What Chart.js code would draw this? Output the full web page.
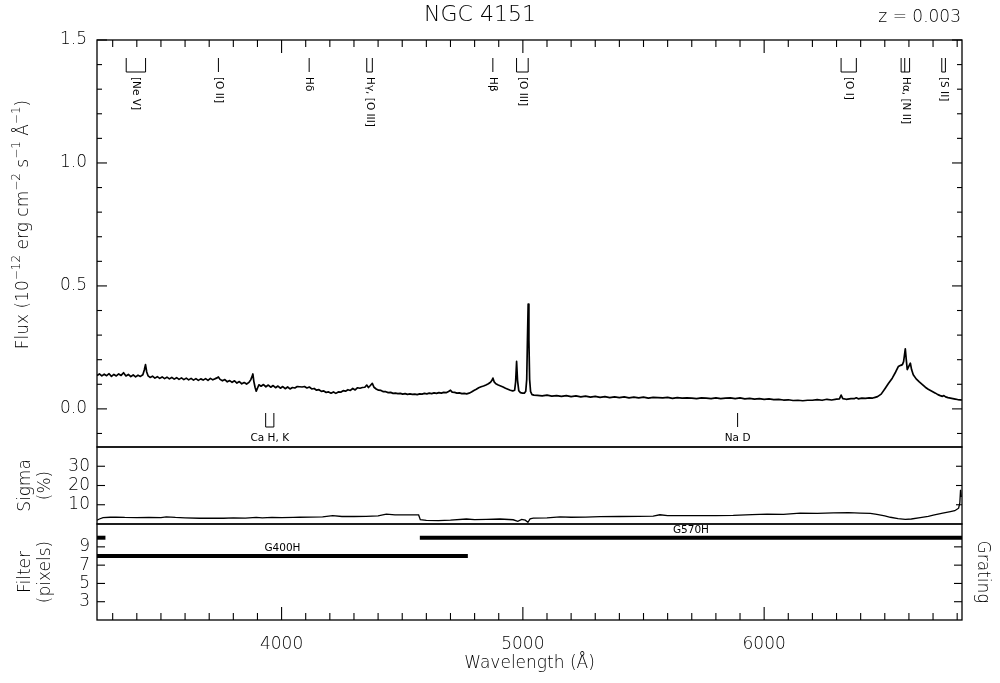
<!DOCTYPE html>
<html>
<head>
<meta charset="utf-8">
<title>NGC 4151</title>
<script src="https://cdn.jsdelivr.net/npm/chart.js@4.4.1/dist/chart.umd.min.js"></script>
<style>
  html, body { margin: 0; padding: 0; background: #fff; }
  #wrap { position: relative; width: 1000px; height: 683px; background: #fff; }
  #wrap canvas { position: absolute; left: 0; top: 0; }
</style>
</head>
<body>
<div id="wrap">
  <canvas id="cFlux" width="1000" height="683"></canvas>
  <canvas id="cSigma" width="1000" height="683"></canvas>
  <canvas id="cFilter" width="1000" height="683"></canvas>
</div>
<script>
// ---- spectrum (observed wavelength in Angstrom, flux in 1e-12 erg/cm2/s/A) ----
const wavelength = [
  3235,3245,3255,3265,3275,3285,3295,3305,3315,3325,3335,3345,3355,3365,3375,3385,3395,3405,3415,3425,
  3431,3436,3441,3447,3455,3465,3475,3485,3495,3505,3515,3525,3535,3545,3555,3565,3575,3585,3595,3605,
  3615,3625,3635,3645,3655,3665,3675,3685,3695,3705,3715,3725,3733,3738,3745,3755,3765,3775,3785,3795,
  3805,3815,3825,3835,3845,3855,3865,3872,3877,3881,3885,3890,3895,3900,3906,3915,3925,3935,3945,3955,
  3965,3975,3985,3995,4005,4015,4025,4035,4045,4055,4065,4075,4085,4095,4105,4115,4125,4135,4145,4155,
  4165,4175,4185,4195,4205,4215,4225,4235,4245,4255,4265,4275,4285,4295,4305,4315,4325,4335,4345,4353,
  4360,4368,4376,4383,4392,4402,4412,4422,4432,4442,4452,4462,4472,4482,4492,4502,4512,4522,4532,4542,
  4552,4562,4572,4582,4592,4602,4612,4622,4632,4642,4652,4662,4672,4682,4692,4700,4707,4717,4727,4737,
  4747,4757,4767,4777,4787,4797,4807,4817,4827,4837,4847,4857,4866,4872,4876,4881,4888,4898,4908,4918,
  4928,4938,4948,4958,4966,4970,4974,4978,4983,4990,4998,5006,5012,5016,5019,5022,5025,5028,5032,5038,
  5046,5060,5080,5100,5120,5140,5160,5180,5200,5220,5240,5260,5280,5300,5320,5340,5360,5380,5400,5420,
  5440,5460,5480,5500,5520,5540,5560,5580,5600,5620,5640,5660,5680,5700,5720,5740,5760,5780,5800,5820,
  5840,5860,5880,5900,5920,5940,5960,5980,6000,6020,6040,6060,6080,6100,6120,6140,6160,6180,6200,6220,
  6240,6260,6280,6300,6312,6319,6326,6340,6360,6375,6382,6390,6405,6420,6435,6450,6460,6470,6485,6502,
  6515,6531,6545,6556,6566,6573,6578,6581,6585,6589,6593,6598,6606,6611,6618,6630,6643,6656,6668,6680,
  6697,6710,6720,6730,6739,6745,6752,6762,6772,6782,6792,6802,6812,6820
];
const flux = [
  0.136,0.142,0.134,0.141,0.135,0.143,0.132,0.140,0.134,0.142,0.136,0.147,0.134,0.140,0.131,0.138,0.130,0.137,0.132,0.139,
  0.158,0.180,0.150,0.134,0.128,0.133,0.125,0.131,0.124,0.130,0.123,0.129,0.122,0.128,0.121,0.127,0.120,0.126,0.119,0.125,
  0.118,0.124,0.117,0.123,0.116,0.122,0.117,0.123,0.116,0.124,0.118,0.123,0.126,0.130,0.120,0.114,0.119,0.110,0.115,0.108,
  0.114,0.105,0.111,0.102,0.107,0.101,0.108,0.118,0.130,0.142,0.112,0.088,0.072,0.084,0.098,0.092,0.099,0.090,0.097,0.088,
  0.095,0.086,0.093,0.084,0.091,0.082,0.089,0.081,0.087,0.085,0.091,0.090,0.089,0.091,0.085,0.089,0.081,0.083,0.076,0.078,
  0.071,0.073,0.067,0.069,0.064,0.069,0.063,0.069,0.068,0.074,0.072,0.078,0.075,0.083,0.077,0.086,0.084,0.087,0.088,0.097,
  0.087,0.095,0.104,0.088,0.081,0.076,0.075,0.070,0.070,0.066,0.067,0.063,0.064,0.062,0.063,0.060,0.062,0.059,0.061,0.059,
  0.060,0.058,0.061,0.060,0.063,0.061,0.064,0.062,0.065,0.063,0.066,0.064,0.067,0.066,0.071,0.076,0.068,0.067,0.064,0.065,
  0.062,0.063,0.061,0.064,0.069,0.075,0.080,0.086,0.090,0.093,0.097,0.102,0.108,0.116,0.125,0.110,0.102,0.097,0.093,0.089,
  0.084,0.080,0.076,0.073,0.076,0.110,0.193,0.115,0.074,0.066,0.064,0.064,0.072,0.120,0.280,0.426,0.280,0.120,0.070,0.058,
  0.056,0.055,0.053,0.056,0.052,0.054,0.051,0.054,0.050,0.053,0.049,0.052,0.048,0.051,0.047,0.050,0.046,0.049,0.046,0.049,
  0.045,0.048,0.045,0.048,0.044,0.047,0.046,0.045,0.047,0.043,0.046,0.044,0.045,0.044,0.042,0.045,0.044,0.042,0.045,0.042,
  0.044,0.045,0.042,0.045,0.041,0.043,0.040,0.042,0.039,0.041,0.038,0.039,0.036,0.037,0.034,0.035,0.033,0.035,0.035,0.038,
  0.035,0.039,0.036,0.040,0.041,0.056,0.042,0.039,0.042,0.042,0.045,0.041,0.044,0.043,0.045,0.044,0.047,0.050,0.060,0.084,
  0.103,0.125,0.150,0.172,0.177,0.180,0.192,0.215,0.244,0.200,0.160,0.170,0.186,0.160,0.139,0.122,0.110,0.099,0.088,0.080,
  0.071,0.064,0.058,0.054,0.051,0.054,0.049,0.046,0.044,0.042,0.040,0.038,0.037,0.036
];

// ---- relative error of the spectrum (%) ----
const sigmaWave = [
  3235,3245,3260,3290,3314,3350,3400,3450,3500,3522,3560,3600,3660,3700,3760,3800,3850,3895,3920,3960,
  4000,4050,4075,4120,4170,4212,4250,4300,4350,4400,4434,4470,4520,4568,4575,4600,4650,4700,4766,4800,
  4850,4905,4960,4979,4995,5010,5021,5030,5043,5100,5154,5200,5260,5320,5400,5480,5540,5568,5600,5700,
  5800,5872,5950,6012,6080,6149,6220,6287,6350,6398,6440,6467,6500,6523,6555,6585,6610,6647,6680,6701,
  6740,6772,6790,6801,6806,6811,6814,6817
];
const sigmaPct = [
  2.0,2.6,3.3,3.5,3.6,3.4,3.3,3.4,3.3,3.7,3.4,3.2,3.0,3.1,3.0,3.2,3.1,3.4,3.2,3.4,
  3.3,3.4,3.5,3.6,3.7,4.3,3.9,3.9,4.0,4.2,5.1,4.7,4.7,4.7,2.2,1.9,1.8,2.0,2.6,2.3,
  2.4,2.6,2.2,1.4,2.4,2.0,0.9,2.7,3.0,3.2,3.7,3.5,3.6,3.8,3.9,4.0,4.1,4.8,4.3,4.3,
  4.4,4.5,4.9,5.1,5.0,5.6,5.5,5.8,5.9,5.7,5.5,5.0,4.2,3.5,2.8,2.4,2.6,3.3,4.0,4.6,
  5.6,6.4,6.9,7.8,8.2,11.0,17.8,14.0
];

// ---- grating coverage and filter width ----
const gratingName   = ['G400H', 'G570H', 'G570H'];
const gratingFrom   = [3235, 3235, 4573];
const gratingTo     = [4772, 3270, 6820];
const gratingFilter = [8, 10, 10];

// ---- line identifications ----
const redshift = 0.003;
const emissionLabel = ['[Ne V]', '[O II]', 'H\u03b4', 'H\u03b3, [O III]', 'H\u03b2', '[O III]', '[O I]', 'H\u03b1, [N II]', '[S II]'];
const emissionRest  = [[3346, 3426], [3727], [4102], [4340, 4363], [4861], [4959, 5007], [6300, 6363], [6548, 6563, 6583], [6716, 6731]];
const absorptionLabel = ['Ca H, K', 'Na D'];
const absorptionWave  = [[3934, 3968], [5890]];

// ---- axes ----
const waveRange   = [3235, 6820];
const waveTicks   = [4000, 5000, 6000];
const fluxRange   = [-0.155, 1.5];
const fluxTicks   = [0.0, 0.5, 1.0, 1.5];
const sigmaRange  = [0, 40];
const sigmaTicks  = [10, 20, 30];
const filterRange = [1, 11.5];
const filterTicks = [3, 5, 7, 9];

// flux axis title, as [text, isSuperscript] pieces
const fluxTitle = [['Flux (10', false], ['\u221212', true], [' erg cm', false], ['\u22122', true],
                   [' s', false], ['\u22121', true], [' \u00C5', false], ['\u22121', true], [')', false]];

// ---------------------------------------------------------------
const FAMILY = "'DejaVu Sans', 'Liberation Sans', sans-serif";
const INK = '#000';
const axisFont = { family: FAMILY, size: 17, weight: '200' };
const PLOT_LEFT = 97, PLOT_RIGHT_GAP = 38;

Chart.defaults.color = INK;
Chart.defaults.font.family = FAMILY;

function tickList(values) { return s => { s.ticks = values.map(v => ({ value: v })); }; }

function baseX(show) {
  return {
    type: 'linear', min: waveRange[0], max: waveRange[1], display: show,
    grid: { display: false, drawTicks: false }, border: { display: false }
  };
}

function leftY(range, ticks, fmt, title, titlePad, labelPad) {
  return {
    type: 'linear', position: 'left', min: range[0], max: range[1],
    grid: { display: false, drawTicks: false }, border: { display: false },
    afterBuildTicks: tickList(ticks),
    afterFit: s => { s.width = PLOT_LEFT; },
    ticks: { padding: labelPad, font: axisFont, color: INK, callback: fmt },
    title: { display: !!title, text: title || '', font: axisFont, color: INK, padding: { top: titlePad, bottom: 0 } }
  };
}

function line(ctx, x1, y1, x2, y2) {
  ctx.beginPath(); ctx.moveTo(x1, y1); ctx.lineTo(x2, y2); ctx.stroke();
}

// frame around the panel plus inward tick marks on both vertical edges and one horizontal edge
function framePlugin(cfg) {
  return {
    id: 'panelFrame',
    afterDatasetsDraw(chart) {
      const { ctx, chartArea: a, scales } = chart;
      ctx.save();
      ctx.strokeStyle = INK;
      ctx.lineWidth = 1.3;
      ctx.strokeRect(a.left, a.top, a.right - a.left, a.bottom - a.top);
      ctx.lineWidth = 1.1;
      if (cfg.xEdge) {
        const xs = scales.x;
        const y0 = cfg.xEdge === 'top' ? a.top : a.bottom;
        const dir = cfg.xEdge === 'top' ? 1 : -1;
        for (let w = Math.ceil(xs.min / 100) * 100; w <= xs.max; w += 100) {
          const px = xs.getPixelForValue(w);
          const len = w % 1000 === 0 ? 13 : 7;
          line(ctx, px, y0, px, y0 + dir * len);
        }
      }
      const ys = scales.y;
      cfg.yMarks.forEach(m => {
        const py = ys.getPixelForValue(m.v);
        line(ctx, a.left, py, a.left + m.left, py);
        line(ctx, a.right, py, a.right - m.right, py);
      });
      ctx.restore();
    }
  };
}

// flux axis title with raised exponents, centred on the flux axis span
const fluxTitlePlugin = {
  id: 'fluxTitle',
  afterDraw(chart) {
    const ctx = chart.ctx;
    const base = '200 17px ' + FAMILY, sup = '200 12px ' + FAMILY;
    ctx.save();
    let total = 0;
    fluxTitle.forEach(([t, s]) => { ctx.font = s ? sup : base; total += ctx.measureText(t).width; });
    const a = chart.chartArea;
    const cy = (a.top + a.bottom) / 2 - 19;
    ctx.translate(24, cy + total / 2);
    ctx.rotate(-Math.PI / 2);
    ctx.fillStyle = INK;
    ctx.textAlign = 'left';
    ctx.textBaseline = 'middle';
    let x = 0;
    fluxTitle.forEach(([t, s]) => {
      ctx.font = s ? sup : base;
      ctx.fillText(t, x, s ? -7 : 0);
      x += ctx.measureText(t).width;
    });
    ctx.restore();
  }
};

// line identifications above and below the spectrum
const lineIdPlugin = {
  id: 'lineIds',
  afterDatasetsDraw(chart) {
    const { ctx, chartArea: a, scales } = chart;
    const xs = scales.x;
    ctx.save();
    ctx.strokeStyle = INK;
    ctx.fillStyle = INK;
    ctx.lineWidth = 1;
    ctx.font = '10.5px ' + FAMILY;
    emissionRest.forEach((group, i) => {
      const px = group.map(w => xs.getPixelForValue(w * (1 + redshift)));
      const y1 = a.top + 18, y2 = a.top + 32;
      px.forEach(p => line(ctx, p, y1, p, y2));
      if (px.length > 1) line(ctx, px[0], y2, px[px.length - 1], y2);
      const cx = (px[0] + px[px.length - 1]) / 2;
      ctx.save();
      ctx.translate(cx, a.top + 37);
      ctx.rotate(Math.PI / 2);
      ctx.textAlign = 'left';
      ctx.textBaseline = 'middle';
      ctx.fillText(emissionLabel[i], 0, 0);
      ctx.restore();
    });
    absorptionWave.forEach((group, i) => {
      const px = group.map(w => xs.getPixelForValue(w));
      const y1 = a.bottom - 34, y2 = a.bottom - 20;
      px.forEach(p => line(ctx, p, y1, p, y2));
      if (px.length > 1) line(ctx, px[0], y2, px[px.length - 1], y2);
      const cx = (px[0] + px[px.length - 1]) / 2;
      ctx.textAlign = 'center';
      ctx.textBaseline = 'middle';
      ctx.fillText(absorptionLabel[i], cx, a.bottom - 9);
    });
    ctx.restore();
  }
};

const headerPlugin = {
  id: 'header',
  afterDraw(chart) {
    const ctx = chart.ctx;
    ctx.save();
    ctx.fillStyle = INK;
    ctx.textBaseline = 'middle';
    ctx.font = '200 22px ' + FAMILY;
    ctx.textAlign = 'center';
    ctx.fillText('NGC 4151', 480, 15);
    ctx.font = '200 17px ' + FAMILY;
    ctx.textAlign = 'right';
    ctx.fillText('z = 0.003', 961, 18);
    ctx.restore();
  }
};

// grating names written just above their bars
const gratingLabelPlugin = {
  id: 'gratingLabels',
  afterDatasetsDraw(chart) {
    const { ctx, scales } = chart;
    ctx.save();
    ctx.fillStyle = INK;
    ctx.font = '10.5px ' + FAMILY;
    ctx.textAlign = 'center';
    ctx.textBaseline = 'bottom';
    const done = {};
    gratingName.forEach((name, i) => {
      if (done[name]) return;
      done[name] = true;
      let best = i;
      gratingName.forEach((n, j) => {
        if (n === name && (gratingTo[j] - gratingFrom[j]) > (gratingTo[best] - gratingFrom[best])) best = j;
      });
      const cx = scales.x.getPixelForValue((gratingFrom[best] + gratingTo[best]) / 2);
      const py = scales.y.getPixelForValue(gratingFilter[best]);
      ctx.fillText(name, cx, py - 2);
    });
    ctx.restore();
  }
};

const common = {
  responsive: false, animation: false, events: [],
  plugins: { legend: { display: false }, tooltip: { enabled: false }, title: { display: false } },
  elements: { point: { radius: 0 }, line: { tension: 0 } }
};

// ---- panel 1: flux ----
const fluxMarks = [];
for (let i = -1; i <= 15; i++) fluxMarks.push({ v: i / 10, left: i % 5 === 0 ? 10 : 5, right: i % 5 === 0 ? 10 : 5 });

new Chart(document.getElementById('cFlux'), {
  type: 'line',
  data: {
    datasets: [{
      data: wavelength.map((w, i) => ({ x: w, y: flux[i] })),
      borderColor: INK, borderWidth: 1.7, borderJoinStyle: 'round', fill: false
    }]
  },
  options: Object.assign({}, common, {
    layout: { padding: { top: 40, bottom: 683 - 447, left: 0, right: PLOT_RIGHT_GAP } },
    scales: {
      x: baseX(false),
      y: leftY(fluxRange, fluxTicks, v => v.toFixed(1), null, 0, 10)
    }
  }),
  plugins: [framePlugin({ xEdge: 'top', yMarks: fluxMarks }), lineIdPlugin, headerPlugin, fluxTitlePlugin]
});

// ---- panel 2: sigma ----
new Chart(document.getElementById('cSigma'), {
  type: 'line',
  data: {
    datasets: [{
      data: sigmaWave.map((w, i) => ({ x: w, y: sigmaPct[i] })),
      borderColor: INK, borderWidth: 1.3, fill: false
    }]
  },
  options: Object.assign({}, common, {
    layout: { padding: { top: 447, bottom: 683 - 524, left: 0, right: PLOT_RIGHT_GAP } },
    scales: {
      x: baseX(false),
      y: leftY(sigmaRange, sigmaTicks, v => String(v), ['Sigma', '(%)'], 15, 7)
    }
  }),
  plugins: [framePlugin({ xEdge: null, yMarks: sigmaTicks.map(v => ({ v, left: 8, right: 6 })) })]
});

// ---- panel 3: filter width per grating ----
const filterX = baseX(true);
Object.assign(filterX, {
  position: 'bottom',
  afterBuildTicks: tickList(waveTicks),
  afterFit: s => { s.height = 683 - 620; },
  ticks: { padding: 14, font: axisFont, color: INK, maxRotation: 0, callback: v => String(v) },
  title: { display: true, text: 'Wavelength (\u00C5)', font: axisFont, color: INK, padding: { top: 0, bottom: 9 } }
});

new Chart(document.getElementById('cFilter'), {
  type: 'line',
  data: {
    datasets: gratingName.map((n, i) => ({
      label: n,
      data: [{ x: gratingFrom[i], y: gratingFilter[i] }, { x: gratingTo[i], y: gratingFilter[i] }],
      borderColor: INK, borderWidth: 4, borderCapStyle: 'butt', fill: false
    }))
  },
  options: Object.assign({}, common, {
    layout: { padding: { top: 524, bottom: 0, left: 0, right: 0 } },
    scales: {
      x: filterX,
      y: leftY(filterRange, filterTicks, v => String(v), ['Filter', '(pixels)'], 15, 7),
      yR: {
        type: 'linear', position: 'right', min: filterRange[0], max: filterRange[1],
        grid: { display: false, drawTicks: false }, border: { display: false },
        ticks: { display: false },
        afterFit: s => { s.width = PLOT_RIGHT_GAP; },
        title: { display: true, text: 'Grating', font: axisFont, color: INK, padding: { top: 7, bottom: 0 } }
      }
    }
  }),
  plugins: [framePlugin({ xEdge: 'bottom', yMarks: filterTicks.map(v => ({ v, left: 8, right: 8 })) }), gratingLabelPlugin]
});
</script>
</body>
</html>
